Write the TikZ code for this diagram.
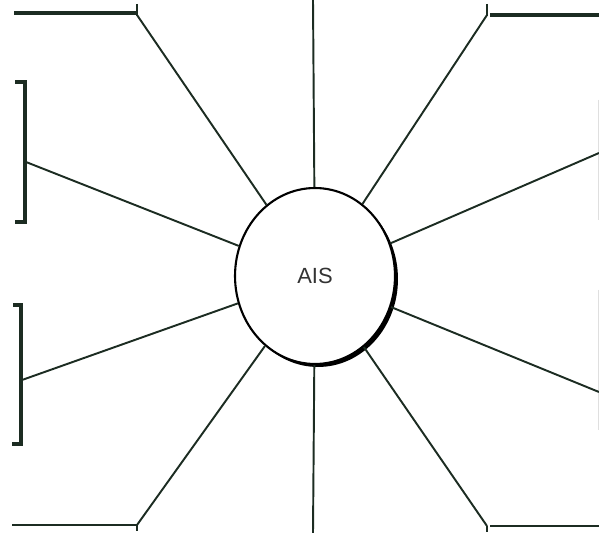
\documentclass[tikz,border=0pt]{standalone}
\usepackage{fontspec}
\setsansfont{Liberation Sans}
\usetikzlibrary{shapes.geometric, shadows}

\definecolor{inkgreen}{RGB}{28,44,34}

\begin{document}
\begin{tikzpicture}[
        x=0.02cm, y=-0.02cm, % one unit = one pixel of the sheet
        font=\sffamily,
        spoke/.style={draw=inkgreen, line width=1.1pt},
        bar/.style={draw=inkgreen, line width=2.2pt},
        hub/.style={ellipse, draw=black, line width=1.2pt, fill=white,
            minimum width=3.2cm, minimum height=3.52cm,
            drop shadow={shadow xshift=0.06cm, shadow yshift=-0.06cm, fill=black, opacity=1}}
    ]
    \useasboundingbox (0,0) rectangle (599,533);

    % --- Centre ---
    \node[hub, text=black!80, font=\sffamily\fontsize{12.5}{14}\selectfont] (ais) at (315,276) {AIS};

    % --- Outer ends of the spokes ---
    \coordinate (tc) at (313,0);
    \coordinate (tl) at (137,15);
    \coordinate (tr) at (487,15);
    \coordinate (lu) at (26,162);
    \coordinate (ll) at (22,380);
    \coordinate (ru) at (599,153);
    \coordinate (rl) at (599,392);
    \coordinate (bl) at (137,525);
    \coordinate (bc) at (313,533);
    \coordinate (br) at (487,526);

    % --- Bars and brackets ---
    \draw[bar] (14,13) -- (137,13);
    \draw[bar, line width=1.5pt] (137,4) -- (137,16);
    \draw[bar] (490,15) -- (599,15);
    \draw[bar, line width=1.5pt] (487,4) -- (487,16);
    \draw[bar] (15,82) -- (25,82) -- (25,222) -- (15,222);
    \draw[bar] (13,305) -- (21,305) -- (21,444) -- (12,444);
    \draw[bar, line width=1.3pt] (12,525) -- (137,525);
    \draw[bar, line width=1.3pt] (137,525) -- (137,531);
    \draw[bar, line width=1.3pt] (490,526) -- (599,526);
    \draw[bar, line width=1.3pt] (487,526) -- (487,532);
    \draw[gray!25, line width=0.4pt] (598,100) -- (598,220);
    \draw[gray!25, line width=0.4pt] (598,290) -- (598,430);

    % --- Spokes ---
    \foreach \p in {tc,tl,tr,lu,ll,ru,rl,bl,bc,br}
        \draw[spoke] (ais) -- (\p);

\end{tikzpicture}
\end{document}
